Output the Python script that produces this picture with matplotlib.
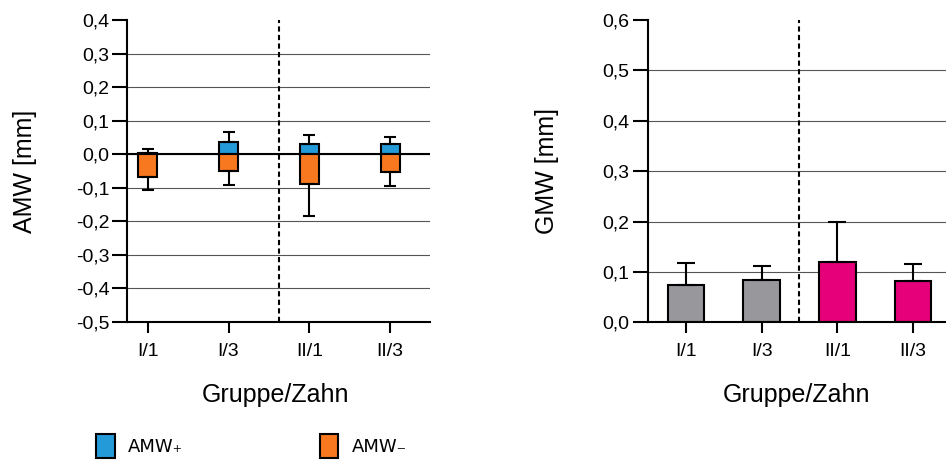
import numpy as np
import matplotlib
matplotlib.use('Agg')
import matplotlib.pyplot as plt
from matplotlib.ticker import FuncFormatter

# Daten: Mittelwerte und Standardabweichungen je Gruppe/Zahn
gruppen = ['I/1', 'I/3', 'II/1', 'II/3']

amw_plus = [0.005, 0.035, 0.030, 0.031]
amw_plus_sd = [0.012, 0.032, 0.026, 0.020]
amw_minus = [-0.067, -0.049, -0.088, -0.052]
amw_minus_sd = [0.041, 0.042, 0.096, 0.044]

gmw = [0.075, 0.085, 0.119, 0.082]
gmw_sd = [0.042, 0.027, 0.081, 0.033]

amw_ticks = [-0.5, -0.4, -0.3, -0.2, -0.1, 0.0, 0.1, 0.2, 0.3, 0.4]
gmw_ticks = [0.0, 0.1, 0.2, 0.3, 0.4, 0.5, 0.6]

farbe_plus = '#249ad8'
farbe_minus = '#f7781f'
farbe_gmw = ['#98979c', '#98979c', '#e6007a', '#e6007a']

plt.rcParams['font.family'] = ['Liberation Sans', 'DejaVu Sans']
plt.rcParams['axes.unicode_minus'] = False

fig = plt.figure(figsize=(9.46, 4.61), dpi=100)
ax1 = fig.add_axes([0.1346, 0.3015, 0.32, 0.6551])
ax2 = fig.add_axes([0.6845, 0.3008, 0.3287, 0.6558])

komma = FuncFormatter(lambda v, p: ('%.1f' % v).replace('.', ','))
x = np.arange(len(gruppen))


def achsen_stil(ax):
    for s in ['top', 'right']:
        ax.spines[s].set_visible(False)
    for s in ['left', 'bottom']:
        ax.spines[s].set_linewidth(1.5)
    ax.tick_params(axis='y', length=10.5, width=1.5, pad=2.5, labelsize=14)
    ax.tick_params(axis='x', length=8, width=1.5, pad=7, labelsize=14)
    ax.yaxis.set_major_formatter(komma)
    ax.set_xticks(x)
    ax.set_xticklabels(gruppen)
    ax.grid(axis='y', color='#555555', linewidth=0.8)
    ax.set_axisbelow(True)
    # keine Gitterlinien an oberem und unterem Rand
    ax.get_ygridlines()[-1].set_visible(False)
    ax.get_ygridlines()[0].set_visible(False)


fehler = dict(ecolor='black', elinewidth=1.5, capthick=1.5)

# --- AMW ---
ax1.set_xlim(-0.2525, 3.493)
ax1.set_ylim(-0.5, 0.4)
ax1.set_yticks(amw_ticks)
achsen_stil(ax1)
ax1.axhline(0, color='black', linewidth=1.5, zorder=1.5)
ax1.bar(x, amw_plus, width=0.23, color=farbe_plus, edgecolor='black',
        linewidth=1.5, yerr=[np.zeros(4), amw_plus_sd],
        error_kw=dict(fehler, capsize=4), zorder=2, label='AMW\u208a')
ax1.bar(x, amw_minus, width=0.23, color=farbe_minus, edgecolor='black',
        linewidth=1.5, yerr=[amw_minus_sd, np.zeros(4)],
        error_kw=dict(fehler, capsize=4), zorder=2, label='AMW\u208b')
ax1.axvline(1.629, color='black', linewidth=1.5, linestyle=(0, (2.5, 1.6)), zorder=3)
ax1.set_ylabel('AMW [mm]', fontsize=18, va='center')
ax1.yaxis.set_label_coords(-0.338, 0.5)
ax1.set_xlabel('Gruppe/Zahn', fontsize=18, va='baseline')
ax1.xaxis.set_label_coords(0.49, -0.264)

# --- GMW ---
ax2.set_xlim(-0.507, 3.6)
ax2.set_ylim(0, 0.6)
ax2.set_yticks(gmw_ticks)
achsen_stil(ax2)
ax2.bar(x, gmw, width=0.48, color=farbe_gmw, edgecolor='black', linewidth=1.5,
        yerr=[np.zeros(4), gmw_sd], error_kw=dict(fehler, capsize=6.5), zorder=2)
ax2.axvline(1.487, color='black', linewidth=1.5, linestyle=(0, (2.5, 1.6)), zorder=3)
ax2.set_ylabel('GMW [mm]', fontsize=18, va='center')
ax2.yaxis.set_label_coords(-0.323, 0.5)
ax2.set_xlabel('Gruppe/Zahn', fontsize=18, va='baseline')
ax2.xaxis.set_label_coords(0.48, -0.264)

# Legende unten links
fig.legend(loc='upper left', bbox_to_anchor=(0.102, 0.0586), ncol=2,
           frameon=False, borderpad=0, borderaxespad=0,
           handlelength=1.0, handleheight=1.65, handletextpad=0.75,
           columnspacing=7.6, prop={'family': 'DejaVu Sans', 'size': 13})

fig.savefig('out.png', dpi=100)
